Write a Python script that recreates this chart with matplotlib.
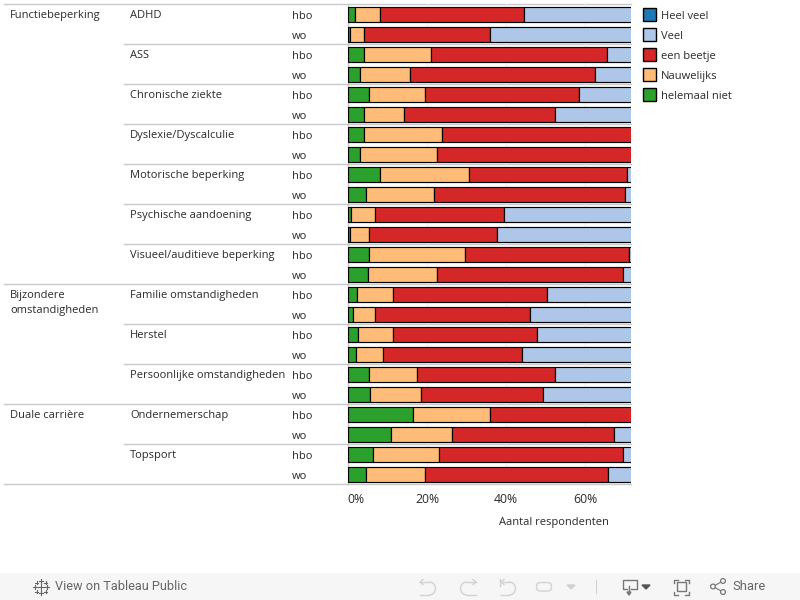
"""Stacked percentage bars per omstandigheid, hbo vs wo, clipped like the Tableau view."""
import matplotlib

matplotlib.use("Agg")
import matplotlib.pyplot as plt
from matplotlib.patches import Arc, Circle, FancyBboxPatch, Rectangle

plt.rcParams["font.family"] = ["Open Sans", "DejaVu Sans"]

groups = ["Functiebeperking", "Bijzondere\nomstandigheden", "Duale carrière"]
group_sizes = [7, 3, 2]
subgroups = [
    "ADHD", "ASS", "Chronische ziekte", "Dyslexie/Dyscalculie",
    "Motorische beperking", "Psychische aandoening",
    "Visueel/auditieve beperking", "Familie omstandigheden", "Herstel",
    "Persoonlijke omstandigheden", "Ondernemerschap", "Topsport",
]
levels = ["hbo", "wo"]

# Percentages per row, hbo/wo alternating. Everything right of about 71.5% is cut off in
# the view, so the long "Veel" values are estimates and "Heel veel" is never visible.
helemaal_niet = [1.8, 0.7, 4.2, 3.2, 5.5, 4.2, 4.2, 3.2, 8.2, 4.5, 0.9, 0.7,
                 5.5, 5.0, 2.4, 1.4, 2.7, 2.2, 5.5, 5.7, 16.6, 11.0, 6.5, 4.7]
nauwelijks = [6.4, 3.5, 16.7, 12.6, 14.1, 10.1, 19.5, 19.4, 22.3, 17.4, 6.1, 4.8,
              24.2, 17.6, 9.1, 5.6, 8.8, 6.8, 12.1, 12.7, 19.2, 15.4, 16.6, 14.9]
een_beetje = [36.4, 31.6, 44.5, 46.7, 38.9, 38.0, 50.0, 50.0, 39.9, 48.2, 32.4, 32.3,
              41.4, 47.0, 38.9, 38.9, 36.4, 35.1, 34.6, 31.0, 45.0, 40.9, 46.3, 46.2]
veel = [55.4, 64.2, 34.6, 37.5, 41.5, 47.7, 26.3, 27.4, 29.6, 29.9, 60.6, 62.2,
        28.9, 30.4, 49.6, 54.1, 52.1, 55.9, 47.8, 50.6, 19.2, 32.7, 30.6, 34.2]

legend_labels = ["Heel veel", "Veel", "een beetje", "Nauwelijks", "helemaal niet"]
legend_colors = ["#1f77b4", "#aec7e8", "#d62728", "#ffbb78", "#2ca02c"]
x_ticks = [0, 20, 40, 60]

TEXT = "#2b2b2b"
RULE = "#c9c9c9"
TOOL = "#777777"
OFF = "#d2d2d2"
ROW_PX = 20
TOP_PX = 4.4
FONT = 8

fig = plt.figure(figsize=(8, 6), dpi=100, facecolor="white")

# overlay in pixel coordinates for the table text, rules, legend and toolbar
page = fig.add_axes([0, 0, 1, 1])
page.set_xlim(0, 800)
page.set_ylim(600, 0)
page.axis("off")

ax = fig.add_axes([347.7 / 800, 1 - (TOP_PX + 480) / 600, 283.3 / 800, 480 / 600])
ax.patch.set_alpha(0)
n_rows = len(veel)
rows = list(range(n_rows))
left = [0.0] * n_rows
series = [(helemaal_niet, "#2ca02c"), (nauwelijks, "#ffbb78"), (een_beetje, "#d62728"), (veel, "#aec7e8")]
for values, color in series:
    ax.barh(rows, values, left=left, height=0.72, color=color, edgecolor="black", linewidth=0.85, zorder=3)
    left = [a + b for a, b in zip(left, values)]

ax.set_xlim(0, 71.5)
ax.set_ylim(n_rows - 0.5, -0.5)
ax.set_yticks([])
ax.set_xticks(x_ticks)
ax.set_xticklabels([f"{t}%" for t in x_ticks], fontsize=8.8, color=TEXT)
ax.get_xticklabels()[0].set_ha("left")
ax.tick_params(axis="x", length=0, pad=6.5)
ax.grid(axis="x", color="#efefef", linewidth=0.8, zorder=0)
for name in ("top", "right", "bottom"):
    ax.spines[name].set_visible(False)
ax.spines["left"].set_color(RULE)
ax.spines["left"].set_linewidth(1.0)

# table on the left
row = 0
sub_index = 0
page.plot([4, 631], [TOP_PX, TOP_PX], color=RULE, lw=1.0)
for group, size in zip(groups, group_sizes):
    page.text(10, TOP_PX + row * ROW_PX + 6, group, fontsize=FONT, color=TEXT, va="top", linespacing=1.5)
    for k in range(size):
        y0 = TOP_PX + row * ROW_PX
        page.text(130, y0 + 11, subgroups[sub_index], fontsize=FONT, color=TEXT, va="center")
        for j, level in enumerate(levels):
            page.text(292, y0 + 12 + j * ROW_PX, level, fontsize=FONT, color=TEXT, va="center")
        row += 2
        sub_index += 1
        y1 = TOP_PX + row * ROW_PX
        start = 4 if k == size - 1 else 124
        page.plot([start, 631], [y1, y1], color=RULE, lw=1.0)

page.text(609, 522, "Aantal respondenten", fontsize=FONT, color=TEXT, ha="right", va="center")

# legend
for i, (label, color) in enumerate(zip(legend_labels, legend_colors)):
    y = 7.5 + i * ROW_PX
    page.add_patch(Rectangle((642.5, y), 13, 13, facecolor=color, edgecolor="black", lw=1.0))
    page.text(661, y + 9, label, fontsize=FONT, color=TEXT, va="center")

# toolbar strip
page.add_patch(Rectangle((0, 573), 800, 27, facecolor="#f6f6f6", edgecolor="none"))
page.text(55, 587, "View on Tableau Public", fontsize=9.2, color="#666666", va="center", family="Roboto")
page.text(732, 587, "Share", fontsize=9.4, color="#666666", va="center", family="Roboto")

# tableau logo, built from small plus signs
for cx, cy, r in [(41, 587, 3.5), (35, 587, 2), (47, 587, 2), (41, 581, 2), (41, 593, 2),
                  (36.5, 582.5, 1.5), (45.5, 582.5, 1.5), (36.5, 591.5, 1.5), (45.5, 591.5, 1.5)]:
    page.plot([cx - r, cx + r], [cy, cy], color="#666666", lw=0.8)
    page.plot([cx, cx], [cy - r, cy + r], color="#666666", lw=0.8)


def hook(x_arc, x_end, theta1, theta2):
    # open arc with two straight arms, the shape of the undo/redo buttons
    page.add_patch(Arc((x_arc, 588.5), 13, 13, theta1=theta1, theta2=theta2, color=OFF, lw=1.0))
    page.plot([x_end, x_arc], [582, 582], color=OFF, lw=1.0)
    page.plot([x_end, x_arc], [595, 595], color=OFF, lw=1.0)


# undo / redo / reset / replay, greyed out
hook(429, 420, -90, 90)
page.plot([423, 420, 423], [579.5, 582, 584.5], color=OFF, lw=1.0)
hook(467, 476, 90, 270)
page.plot([473, 476, 473], [579.5, 582, 584.5], color=OFF, lw=1.0)
hook(509, 501, -90, 90)
page.plot([500, 500], [579, 586], color=OFF, lw=1.0)
page.plot([504, 501, 504], [579.5, 582, 584.5], color=OFF, lw=1.0)
page.add_patch(FancyBboxPatch((536.5, 582.5), 15, 8.5, boxstyle="round,pad=0,rounding_size=4",
                              facecolor="none", edgecolor=OFF, lw=1.0))
page.fill([567, 575, 571], [585, 585, 589], color=OFF)
page.plot([595.7, 595.7], [580, 593], color=OFF, lw=0.8)

# download, fullscreen, share icons
page.plot([627, 622.5, 622.5, 636.5, 636.5, 631], [589, 589, 580, 580, 589, 589], color=TOOL, lw=1.0)
page.plot([629, 629], [586, 594], color=TOOL, lw=1.0)
page.fill([627, 631, 629], [592, 592, 595], color=TOOL)
page.fill([642, 650, 646], [585, 585, 589], color="#555555")
page.add_patch(Rectangle((677, 582), 9, 9, facecolor="none", edgecolor=TOOL, lw=1.0))
for x, y, dx, dy in [(673.5, 579.5, 4, 3), (688.5, 579.5, -4, 3), (673.5, 594.5, 4, -3), (688.5, 594.5, -4, -3)]:
    page.plot([x + dx, x, x], [y, y, y + dy], color=TOOL, lw=1.0)
page.plot([723, 713, 723], [581, 586.5, 592], color=TOOL, lw=0.8)
for cx, cy in [(723, 581), (713, 586.5), (723, 592)]:
    page.add_patch(Circle((cx, cy), 2.4, facecolor="#f6f6f6", edgecolor=TOOL, lw=0.9, zorder=3))

fig.savefig("out.png", dpi=100)
plt.close(fig)
